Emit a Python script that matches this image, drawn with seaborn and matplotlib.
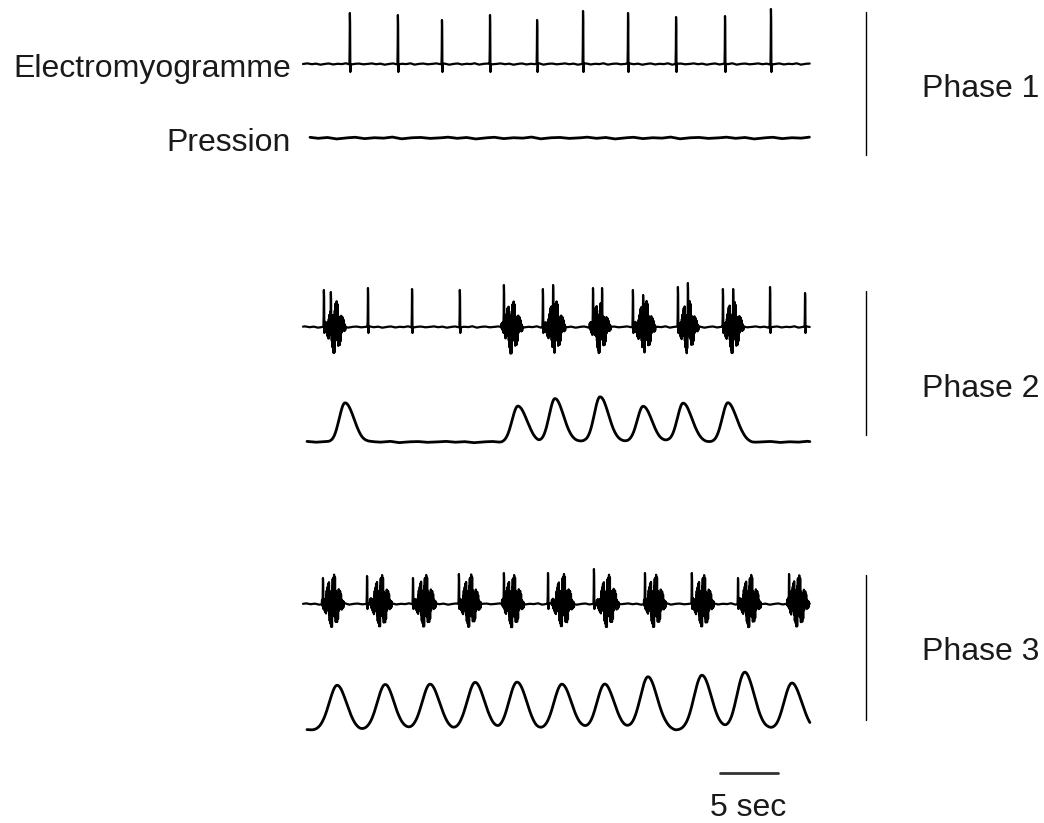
import numpy as np
import pandas as pd
import matplotlib
matplotlib.use("Agg")
import matplotlib.pyplot as plt
import seaborn as sns

# ---- data (times in seconds, amplitudes in trace units) ----
duration = 43.7

# Phase 1: isolated EMG spikes, flat pressure
p1_spike_t = [4.05, 8.19, 11.98, 16.12, 20.17, 24.14, 28.02, 32.16, 36.38, 40.34]
p1_spike_h = [51, 49, 44, 49, 44, 53, 51, 47, 48, 55]

# Phase 2: spikes + some bursts, pressure waves only with bursts
p2_spike_t = [1.81, 2.41, 5.60, 9.40, 13.53, 17.33, 20.69, 21.55, 25.00, 25.78,
              28.45, 29.31, 32.33, 33.19, 36.21, 37.07, 40.26, 43.28]
p2_spike_h = [37, 35, 39, 38, 37, 42, 38, 42, 39, 39, 37, 32, 40, 44, 38, 38, 40, 34]
p2_burst_t = [2.76, 18.02, 21.72, 25.60, 29.48, 33.19, 37.07]
p2_wave_t = [3.62, 18.53, 21.72, 25.60, 29.31, 32.76, 36.64]
p2_wave_h = [39, 36, 43, 45, 36, 39, 39]

# Phase 3: a burst every cycle, regular pressure waves
p3_spike_t = [1.72, 5.52, 9.48, 13.45, 17.33, 21.12, 25.09, 29.48, 33.53, 37.50, 41.90]
p3_spike_h = [26, 28, 26, 30, 31, 31, 35, 31, 31, 26, 30]
p3_burst_t = [2.59, 6.72, 10.52, 14.40, 18.10, 22.41, 26.29, 30.34, 34.48, 38.53, 42.67]
p3_wave_t = [2.93, 7.07, 10.95, 14.83, 18.45, 22.33, 26.03, 29.74, 34.40, 38.10, 42.16]
p3_wave_h = [45, 45, 46, 48, 48, 46, 46, 53, 55, 58, 47]

# small baseline irregularities and burst texture (cycled)
wobble = [0.0, 0.8, -0.3, 0.5, -0.9, 0.1, 0.7, -0.6, 0.3, -0.2, 0.9, -0.8, 0.2, 0.6, -0.4]
burst_jitter = [1.0, 0.45, 0.8, 0.3, 0.95, 0.6, 0.25, 0.85, 0.5, 0.7, 0.35, 0.9, 0.15]

# ---- layout (pixels of the 1044x823 canvas) ----
W, H = 1044, 823
x0_px, px_per_s = 303, 11.6


def px2t(px):
    return (px - x0_px) / px_per_s


def base_wobble(t, scale, step, shift):
    pat = np.array(wobble * 30)
    grid = np.arange(len(pat)) * step - shift
    return scale * np.interp(t, grid, pat)


def emg(spike_t, spike_h, burst_t, up, down, half, dip, shift):
    dt = 0.02
    t = np.arange(0, duration, dt)
    s = base_wobble(t, 0.8, 0.37, shift)
    jit = np.array(burst_jitter)
    for c in burst_t:
        idx = np.where(np.abs(t - c) < half)[0]
        env = np.exp(-((t[idx] - c) / (half * 0.7)) ** 2)
        k = np.arange(len(idx))
        sign = np.where(k % 2 == 0, 1.0, -1.0)
        amp = np.where(sign > 0, up, down) * jit[k % len(jit)]
        s[idx] += sign * amp * env
    for ts, h in zip(spike_t, spike_h):
        i = int(round(ts / dt))
        if i + 4 < len(s):
            s[i - 1] = 0.3 * h
            s[i] = h
            s[i + 1] = 0.8 * h
            s[i + 2] = -dip
            s[i + 3] = -0.6 * dip
    return t, s


def pressure(wave_t, wave_h, rise, fall, start, shift):
    t = np.arange(start, duration, 0.05)
    s = base_wobble(t, 0.8, 0.8, shift)
    for c, h in zip(wave_t, wave_h):
        sig = np.where(t < c, rise, fall)
        s += h * np.exp(-0.5 * ((t - c) / sig) ** 2)
    return t, s


rows = []
def add(name, t, s, baseline):
    rows.append(pd.DataFrame({"t": t, "y": baseline - s, "trace": name}))

t, s = emg(p1_spike_t, p1_spike_h, [], 0, 0, 0.7, 8, 0.0)
add("emg1", t, s, 64)
t, s = pressure([], [], 0.6, 0.6, px2t(310), 0.3)
add("pres1", t, s * 1.3, 138)
t, s = emg(p2_spike_t, p2_spike_h, p2_burst_t, 27, 27, 0.9, 6, 0.2)
add("emg2", t, s, 327)
t, s = pressure(p2_wave_t, p2_wave_h, 0.5, 0.75, px2t(307), 0.5)
add("pres2", t, s, 442)
t, s = emg(p3_spike_t, p3_spike_h, p3_burst_t, 30, 24, 0.95, 5, 0.1)
add("emg3", t, s, 604)
t, s = pressure(p3_wave_t, p3_wave_h, 0.68, 0.8, px2t(307), 0.7)
add("pres3", t, s, 730)

df = pd.concat(rows, ignore_index=True)

# ---- drawing ----
sns.set_style("white")
plt.rcParams["font.family"] = ["Liberation Sans", "DejaVu Sans"]

fig = plt.figure(figsize=(W / 100, H / 100), dpi=100)
ax = fig.add_axes([0, 0, 1, 1])

emg_df = df[df["trace"].str.startswith("emg")]
pres_df = df[df["trace"].str.startswith("pres")]
sns.lineplot(data=emg_df, x="t", y="y", units="trace", estimator=None, sort=False,
             color="black", lw=1.6, legend=False, ax=ax)
sns.lineplot(data=pres_df, x="t", y="y", units="trace", estimator=None, sort=False,
             color="black", lw=2.0, legend=False, ax=ax)

ax.set_xlim(px2t(0), px2t(W))
ax.set_ylim(H, 0)
ax.axis("off")

# phase brackets
for y_top, y_bot in [(12, 155), (291, 435), (575, 720)]:
    ax.plot([px2t(866), px2t(866)], [y_top, y_bot], color="black", lw=1.0)

# 5 s scale bar
ax.plot([px2t(720), px2t(720) + 5], [773, 773], color="#333333", lw=2)

txt = dict(fontsize=23, color="#1a1a1a", va="center")
ax.text(px2t(291), 69, "Electromyogramme", ha="right", **txt)
ax.text(px2t(291), 143, "Pression", ha="right", **txt)
ax.text(px2t(922), 89, "Phase 1", ha="left", **txt)
ax.text(px2t(922), 389, "Phase 2", ha="left", **txt)
ax.text(px2t(922), 652, "Phase 3", ha="left", **txt)
ax.text(px2t(748), 808, "5 sec", ha="center", **txt)

fig.savefig("out.png", dpi=100)
